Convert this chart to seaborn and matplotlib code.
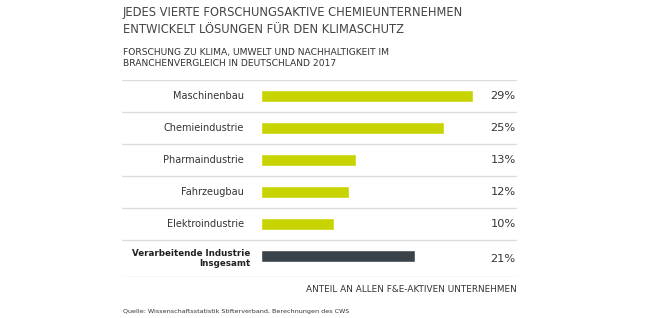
import matplotlib
matplotlib.use("Agg")
import matplotlib.pyplot as plt
import seaborn as sns
import pandas as pd

# data
categories = ["Maschinenbau", "Chemieindustrie", "Pharmaindustrie",
              "Fahrzeugbau", "Elektroindustrie", "Verarbeitende Industrie\nInsgesamt"]
shares = [29, 25, 13, 12, 10, 21]
labels = ["29%", "25%", "13%", "12%", "10%", "21%"]
groups = ["branche"] * 5 + ["gesamt"]

title = "JEDES VIERTE FORSCHUNGSAKTIVE CHEMIEUNTERNEHMEN\nENTWICKELT LÖSUNGEN FÜR DEN KLIMASCHUTZ"
subtitle = "FORSCHUNG ZU KLIMA, UMWELT UND NACHHALTIGKEIT IM\nBRANCHENVERGLEICH IN DEUTSCHLAND 2017"
axis_note = "ANTEIL AN ALLEN F&E-AKTIVEN UNTERNEHMEN"
source = "Quelle: Wissenschaftsstatistik Stifterverband, Berechnungen des CWS"

LIME = "#c8d400"
DARK = "#3a434a"
TEXT = "#333333"
GRID = "#dcdcdc"

df = pd.DataFrame({"kategorie": categories, "anteil": shares, "gruppe": groups})

sns.set_theme(style="white")
plt.rcParams["font.family"] = ["DejaVu Sans"]

W, H = 660, 318
fig = plt.figure(figsize=(W / 100, H / 100), dpi=100)

# axes spans the row area: x 122..517 px, y 80..277 px
ax = fig.add_axes([122 / W, 1 - 277 / H, (517 - 122) / W, (277 - 80) / H])
sns.barplot(data=df, y="kategorie", x="anteil", hue="gruppe",
            palette={"branche": LIME, "gesamt": DARK}, dodge=False,
            width=0.36, legend=False, ax=ax, saturation=1)

ax.set_xlim(-19.0, 35.0)
ax.set_ylim(5.656, -0.5)
ax.axis("off")

# row separators
for y in [-0.5, 0.5, 1.5, 2.5, 3.5, 4.5, 5.656]:
    ax.axhline(y, color=GRID, lw=1.0, zorder=0)

for i, (cat, lab) in enumerate(zip(categories, labels)):
    last = i == len(categories) - 1
    if last:
        ax.text(-1.5, i + 0.08, cat, ha="right", va="center", fontsize=6.3,
                color="#222222", fontweight="bold", linespacing=1.2)
    else:
        ax.text(-2.3, i, cat, ha="right", va="center", fontsize=7, color=TEXT)
    ax.text(34.8, i + (0.08 if last else 0), lab, ha="right", va="center",
            fontsize=8.2, color=TEXT)

fig.text(123 / W, 1 - 21 / H, title, ha="left", va="center",
         fontsize=8.3, color="#444444", linespacing=1.35)
fig.text(123 / W, 1 - 58 / H, subtitle, ha="left", va="center",
         fontsize=6.6, color=TEXT, linespacing=1.3)
fig.text(517 / W, 1 - 290 / H, axis_note, ha="right", va="center",
         fontsize=6.4, color=TEXT)
fig.text(123 / W, 1 - 312 / H, source, ha="left", va="center",
         fontsize=4.6, color=TEXT)

fig.savefig("out.png", dpi=100, facecolor="white")
